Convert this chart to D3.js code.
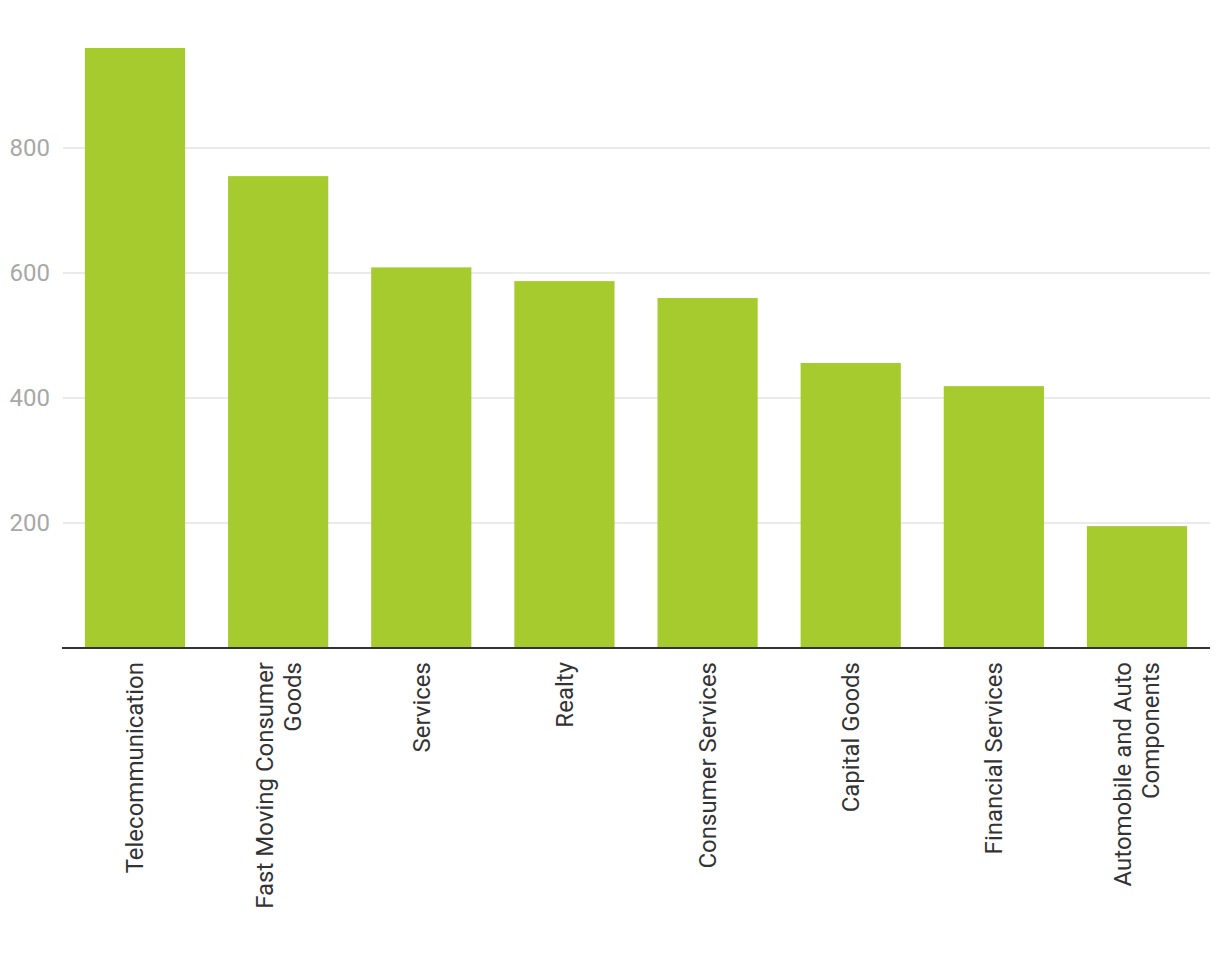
<!DOCTYPE html>
<html><head><meta charset="utf-8">
<script src="https://cdn.jsdelivr.net/npm/d3@7"></script>
<style>body{margin:0;background:#fff;}svg{display:block;font-family:Roboto, "Noto Sans", sans-serif;}</style>
</head><body><svg id="c" width="1220" height="978"></svg>
<script>
const categories = ["Telecommunication","Fast Moving Consumer Goods","Services","Realty","Consumer Services","Capital Goods","Financial Services","Automobile and Auto Components"];
const values = [960, 755, 609, 587, 560, 456, 419, 195];
const yTicks = [200, 400, 600, 800];

(function () {
const svg = d3.select("#c");
const mLeft = 62, mRight = 1210, mTop = 23, mBottom = 648;
const x = d3.scaleBand().domain(categories).range([mLeft, mRight]).paddingInner(0.3).paddingOuter(0.16);
const y = d3.scaleLinear().domain([0, 1000]).range([mBottom, mTop]);

// grid
svg.append("g").selectAll("line").data(yTicks).join("line")
  .attr("x1", 63).attr("x2", mRight).attr("y1", d => y(d)).attr("y2", d => y(d))
  .attr("stroke", "#e3e3e3").attr("stroke-width", 1.5);
svg.append("g").selectAll("text").data(yTicks).join("text")
  .attr("x", 50).attr("y", d => y(d)).attr("dy", "0.35em").attr("text-anchor", "end")
  .attr("fill", "#a8a8a8").attr("font-size", 24).text(d => d);

// bars
svg.append("g").selectAll("rect").data(values).join("rect")
  .attr("x", (d, i) => x(categories[i])).attr("width", x.bandwidth())
  .attr("y", d => y(d)).attr("height", d => y(0) - y(d))
  .attr("fill", "#a5cb2e");

// baseline
svg.append("line").attr("x1", mLeft).attr("x2", mRight).attr("y1", mBottom).attr("y2", mBottom)
  .attr("stroke", "#333").attr("stroke-width", 2);

// labels
const maxW = 262;
const lg = svg.append("g");
categories.forEach(c => {
  const cx = x(c) + x.bandwidth() / 2;
  const t = lg.append("text").attr("font-size", 24).attr("fill", "#333").attr("text-anchor", "end")
    .attr("transform", `translate(${cx},${mBottom + 14}) rotate(-90)`);
  const words = c.split(" ");
  let lines = [], cur = [];
  const probe = t.append("tspan");
  words.forEach(w => {
    const test = cur.concat(w).join(" ");
    probe.text(test);
    if (probe.node().getComputedTextLength() > maxW && cur.length) { lines.push(cur.join(" ")); cur = [w]; }
    else cur.push(w);
  });
  lines.push(cur.join(" "));
  probe.remove();
  const lh = 28;
  const n = lines.length;
  lines.forEach((ln, i) => {
    t.append("tspan").attr("x", 0).attr("y", (i - (n - 1) / 2) * lh).attr("dy", "0.35em").text(ln);
  });
});
})();
</script></body></html>
